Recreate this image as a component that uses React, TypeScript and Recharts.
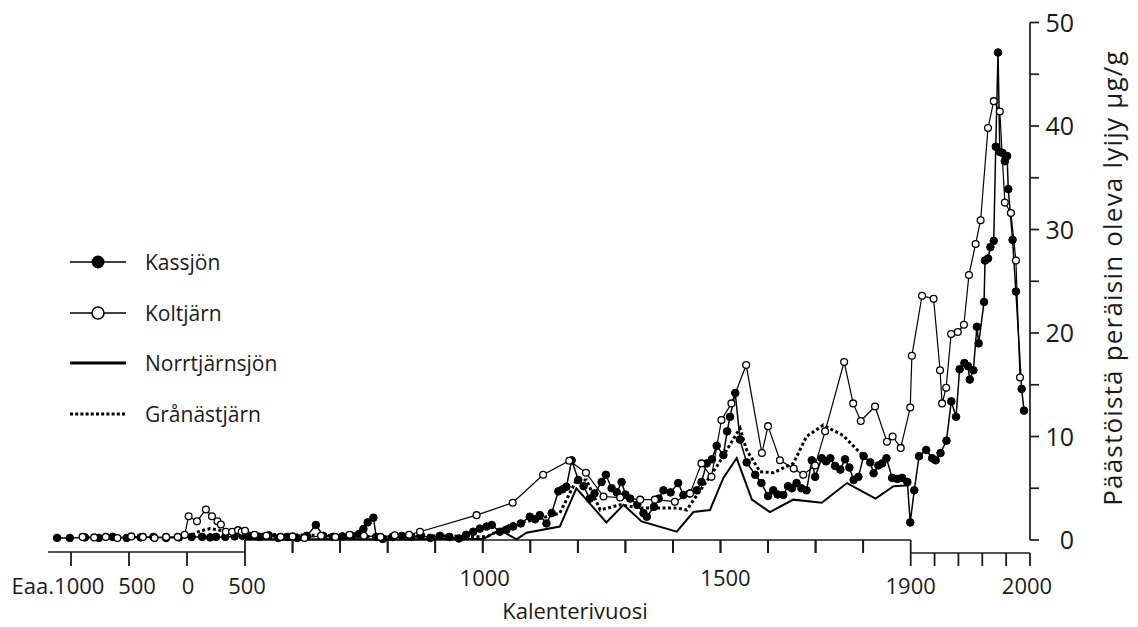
import { LineChart, Line, XAxis, YAxis, ReferenceLine, Legend } from 'recharts'

const FONT = '"Open Sans", "DejaVu Sans", sans-serif'
const INK = '#1a1a1a'

// calendar year (negative = BC) and lead from emissions, µg/g
const kassYears = [
  -1120, -1010, -880, -760, -640, -520, -400, -290, -180, -70, 40, 130, 200, 250, 330, 410, 480,
  510, 530, 550, 570, 590, 610, 630, 649, 665, 685, 705, 725, 740, 749, 758, 770, 776, 790,
  810, 830, 850, 870, 890, 910, 930, 950, 965, 980, 994, 1008, 1019, 1036, 1050, 1064, 1080,
  1099, 1110, 1120, 1134, 1145, 1159, 1168, 1176, 1187, 1201, 1212, 1225, 1235, 1250, 1259,
  1271, 1282, 1292, 1300, 1310, 1325, 1338, 1345, 1360, 1370, 1380, 1395, 1411, 1422, 1435,
  1450, 1460, 1471, 1482, 1492, 1506, 1514, 1520, 1531, 1541, 1555, 1573, 1586, 1600, 1611,
  1620, 1632, 1642, 1650, 1660, 1670, 1681, 1692, 1699, 1713, 1722, 1731, 1741, 1752, 1762,
  1771, 1780, 1790, 1801, 1815, 1822, 1832, 1840, 1849, 1861, 1872, 1882, 1893, 1899,
  1903, 1907, 1913, 1918, 1921, 1925, 1930, 1934, 1938, 1941, 1945, 1948, 1949.5, 1952.5,
  1955.5, 1957, 1961.5, 1962.3, 1964.8, 1966.8, 1969.6, 1971.3, 1973.2, 1974.7, 1976.9,
  1978.9, 1980.8, 1981.8, 1985.4, 1988.2, 1993, 1995,
]
const kassVals = [
  0.2, 0.2, 0.25, 0.2, 0.3, 0.2, 0.25, 0.3, 0.2, 0.25, 0.3, 0.3, 0.25, 0.3, 0.3, 0.35, 0.4,
  0.4, 0.3, 0.45, 0.2, 0.3, 0.2, 0.4, 1.45, 0.4, 0.3, 0.35, 0.4, 0.6, 1.06, 1.7, 2.15, 0.3, 0.1,
  0.3, 0.4, 0.3, 0.45, 0.2, 0.4, 0.3, 0.15, 0.5, 0.8, 1.1, 1.3, 1.45, 0.8, 1.0, 1.3, 1.6,
  2.25, 2.0, 2.4, 1.6, 2.6, 4.7, 4.9, 5.15, 7.7, 5.8, 5.2, 4.0, 4.5, 5.6, 6.3,
  5.0, 4.6, 5.6, 4.4, 4.0, 3.4, 2.6, 2.25, 3.2, 4.0, 4.8, 4.6, 5.5, 4.35, 4.5,
  4.8, 5.6, 7.4, 7.8, 9.1, 8.2, 10.5, 11.9, 14.2, 9.7, 7.5, 6.3, 5.5, 4.25, 4.8,
  4.4, 4.35, 5.2, 5.0, 5.5, 5.0, 4.8, 7.7, 6.1, 7.9, 7.6, 7.9, 7.15, 6.8, 7.8,
  7.0, 5.8, 6.1, 8.1, 7.5, 6.45, 7.2, 7.4, 7.9, 6.0, 5.9, 6.0, 5.6, 1.7,
  4.8, 8.1, 8.7, 7.9, 7.7, 8.4, 9.6, 13.4, 11.9, 16.5, 17.1, 16.8, 15.5, 16.4,
  20.6, 19.0, 23.0, 27.0, 27.2, 28.3, 28.9, 38.0, 47.1, 37.5, 37.4,
  36.6, 37.1, 33.9, 29.0, 24.0, 14.6, 12.5,
]

const koltYears = [
  -900, -800, -700, -600, -480, -380, -280, -180, -80, -20, 14, 86, 163, 215, 263, 292, 335,
  389, 440, 472, 500, 520, 545, 575, 600, 625, 660, 690, 720, 750, 785, 815, 845, 868, 987,
  1063, 1127, 1182, 1217, 1254, 1289, 1331, 1362, 1404, 1436, 1460, 1481, 1502, 1523, 1554,
  1587, 1600, 1625, 1654, 1674, 1699, 1720, 1760, 1779, 1795, 1825, 1850, 1862, 1879, 1899,
  1901, 1909.5, 1919.2, 1924.6, 1926.3, 1929.7, 1933.9, 1939.5, 1944.6, 1948.8, 1954.4,
  1958.6, 1964.8, 1969.6, 1974.7, 1978.9, 1984, 1988.2, 1991.6,
]
const koltVals = [
  0.3, 0.25, 0.3, 0.2, 0.35, 0.3, 0.2, 0.3, 0.3, 0.5, 2.3, 1.8, 2.95, 2.3, 1.8, 1.5, 0.8,
  0.8, 0.95, 0.8, 0.9, 0.5, 0.4, 0.3, 0.35, 0.2, 0.4, 0.3, 0.5, 0.4, 0.3, 0.45, 0.5, 0.8, 2.4,
  3.6, 6.3, 7.66, 6.5, 4.2, 4.1, 3.9, 3.9, 3.7, 4.5, 7.4, 6.1, 11.6, 13.2, 16.9,
  8.4, 11.0, 7.7, 6.9, 6.3, 7.2, 10.5, 17.2, 13.2, 11.5, 12.9, 9.5, 10.0, 8.9, 12.8,
  17.8, 23.6, 23.3, 16.4, 13.2, 14.7, 19.9, 20.1, 20.8, 25.6, 28.6,
  30.9, 39.8, 42.4, 41.4, 32.6, 31.6, 27.0, 15.7,
]

const norrYears = [
  500, 600, 700, 800, 900, 1001, 1036, 1071, 1092, 1162, 1197, 1260, 1296, 1334, 1408, 1443,
  1478, 1506, 1534, 1566, 1604, 1653, 1713, 1766, 1826, 1864, 1896,
]
const norrVals = [
  0.1, 0.05, 0.1, 0.05, 0.1, 0.1, 0.97, 0.07, 0.7, 1.3, 5.0, 1.7, 3.4, 1.8, 0.8, 2.7,
  2.9, 6.0, 7.9, 3.9, 2.7, 3.9, 3.6, 5.5, 4.0, 5.2, 5.3,
]

const granYears = [
  0, 60, 120, 200, 300, 400, 500, 600, 700, 800, 900, 1008, 1064, 1106, 1162, 1197, 1218,
  1247, 1289, 1331, 1408, 1429, 1492, 1541, 1555, 1583, 1611, 1653, 1681, 1716, 1758, 1794, 1805,
]
const granVals = [
  0.3, 0.6, 0.9, 1.1, 0.9, 0.7, 0.6, 0.5, 0.4, 0.3, 0.4, 0.3, 1.6, 1.9, 2.6, 5.8, 5.8,
  2.9, 3.4, 3.1, 3.1, 2.9, 7.1, 10.8, 8.7, 6.6, 6.5, 7.4, 10.0, 11.1, 10.1, 8.4, 8.0,
]

const tickYears = [-1000, -500, 0, 500, 600, 700, 800, 900, 1000, 1100, 1200, 1300, 1400, 1500, 1600, 1700, 1800, 1900, 1920, 1940, 1960, 1980, 2000]
const tickLabels = ['Eaa.1000', '500', '0', '500', '', '', '', '', '1000', '', '', '', '', '1500', '', '', '', '1900', '', '', '', '', '2000']
const midTickYears = tickYears.filter((y) => y > 500 && y < 1900)
const yTicks = [0, 5, 10, 15, 20, 25, 30, 35, 40, 45, 50]

const legendNames = ['Kassjön', 'Koltjärn', 'Norrtjärnsjön', 'Grånästjärn']

// broken time axis: BC/early part squeezed, 500-1900 normal, 1900s stretched
function toPos(year: number) {
  if (year <= 500) return 197 - (500 - year) * 0.116
  if (year <= 1900) return 197 + (year - 500) * 0.4755
  return 862.7 + (year - 1900) * 1.193
}

const rows = (years: number[], vals: number[]) => years.map((y, i) => ({ pos: toPos(y), v: vals[i] }))

const PX_PER_UNIT = 517.5 / 50
const lowAxis = -12 / PX_PER_UNIT
const lowAxis3 = -13 / PX_PER_UNIT

const labelNudge: Record<number, number> = { [-1000]: -13, [-500]: 8, 0: 1, 500: 2, 1000: 2, 1500: 5, 2000: -3 }

function XTick(props: any) {
  const { x, y, index } = props
  const year = tickYears[index]
  const label = tickLabels[index]
  let top = y
  let bottom = y + 13
  let labelY = y + 46
  if (year < 500) {
    top = y + 12
    bottom = y + 26
    labelY = y + 54
  } else if (year === 500 || year === 1900) {
    bottom = y + 26
    labelY = y + 54
  } else if (year > 1900) {
    top = y + 13
    bottom = y + 26
    labelY = y + 54
  }
  return (
    <g>
      <path d={`M${x},${top}L${x},${bottom}`} stroke={INK} strokeWidth={1.8} fill="none" />
      {label ? (
        <text x={x + (labelNudge[year] ?? 0)} y={labelY} textAnchor="middle" fontFamily={FONT} fontSize={22} fill={INK}>
          {label}
        </text>
      ) : null}
    </g>
  )
}

function YTick(props: any) {
  const { x, y, payload } = props
  if (payload.value % 10 !== 0) return null
  return (
    <text x={x + 35} y={y} dy="0.36em" textAnchor="end" fontFamily={FONT} fontSize={25} fill={INK}>
      {payload.value}
    </text>
  )
}

function Marker({ name }: { name: string }) {
  return (
    <svg width={58} height={20} style={{ display: 'block' }}>
      {name === 'Kassjön' && (
        <>
          <line x1={0} x2={56} y1={10} y2={10} stroke="#000" strokeWidth={1.5} />
          <circle cx={28} cy={10} r={6.5} fill="#000" />
        </>
      )}
      {name === 'Koltjärn' && (
        <>
          <line x1={0} x2={56} y1={10} y2={10} stroke="#000" strokeWidth={1.5} />
          <circle cx={28} cy={10} r={6} fill="#fff" stroke="#000" strokeWidth={1.5} />
        </>
      )}
      {name === 'Norrtjärnsjön' && <line x1={0} x2={56} y1={10} y2={10} stroke="#000" strokeWidth={3} />}
      {name === 'Grånästjärn' && (
        <line x1={0} x2={56} y1={10} y2={10} stroke="#000" strokeWidth={3} strokeDasharray="3 2.2" />
      )}
    </svg>
  )
}

function LegendBox() {
  return (
    <div style={{ fontFamily: FONT, fontSize: 21, color: INK }}>
      {legendNames.map((n) => (
        <div key={n} style={{ display: 'flex', alignItems: 'center', height: 50.5 }}>
          <Marker name={n} />
          <span style={{ marginLeft: 17 }}>{n}</span>
        </div>
      ))}
    </div>
  )
}

const xTitle = () => (
  <text x={575} y={619} textAnchor="middle" fontFamily={FONT} fontSize={22} fill={INK}>
    Kalenterivuosi
  </text>
)

const yTitle = () => (
  <text
    x={1112}
    y={278}
    transform="rotate(-90, 1112, 278)"
    textAnchor="middle"
    dominantBaseline="central"
    fontFamily={FONT}
    fontSize={26}
    letterSpacing={1.2}
    fill={INK}
  >
    Päästöistä peräisin oleva lyijy µg/g
  </text>
)

export default function App() {
  return (
    <div style={{ position: 'absolute', left: 0, top: 0, background: '#fff' }}>
      <LineChart width={1138} height={627} margin={{ top: 22.5, right: 48, bottom: 27, left: 48 }}>
        <XAxis
          type="number"
          dataKey="pos"
          domain={[0, 982]}
          ticks={tickYears.map(toPos)}
          interval={0}
          allowDataOverflow
          axisLine={false}
          tickLine={false}
          tickSize={0}
          tickMargin={0}
          height={60}
          tick={(p: any) => <XTick {...p} />}
          label={xTitle}
        />
        <YAxis
          orientation="right"
          domain={[0, 50]}
          ticks={yTicks}
          interval={0}
          width={60}
          tickSize={9}
          tickMargin={0}
          axisLine={{ stroke: INK, strokeWidth: 1.7 }}
          tickLine={{ stroke: INK, strokeWidth: 1.7 }}
          tick={(p: any) => <YTick {...p} />}
          label={yTitle}
        />
        <ReferenceLine segment={[{ x: toPos(-1197), y: lowAxis }, { x: toPos(500), y: lowAxis }]} stroke={INK} strokeWidth={1.7} ifOverflow="visible" />
        <ReferenceLine segment={[{ x: toPos(500), y: 0 }, { x: toPos(1900), y: 0 }]} stroke={INK} strokeWidth={1.7} ifOverflow="visible" />
        <ReferenceLine segment={[{ x: toPos(1900), y: lowAxis3 }, { x: toPos(2000), y: lowAxis3 }]} stroke={INK} strokeWidth={1.7} ifOverflow="visible" />
        {midTickYears.map((yr) => (
          <ReferenceLine
            key={yr}
            segment={[{ x: toPos(yr), y: 0 }, { x: toPos(yr), y: lowAxis3 }]}
            stroke={INK}
            strokeWidth={1.8}
            ifOverflow="visible"
          />
        ))}
        <Line
          data={rows(granYears, granVals)}
          dataKey="v"
          name="Grånästjärn"
          type="linear"
          stroke="#000"
          strokeWidth={3}
          strokeDasharray="3 2.5"
          dot={false}
          isAnimationActive={false}
        />
        <Line
          data={rows(norrYears, norrVals)}
          dataKey="v"
          name="Norrtjärnsjön"
          type="linear"
          stroke="#000"
          strokeWidth={2}
          dot={false}
          isAnimationActive={false}
        />
        <Line
          data={rows(kassYears, kassVals)}
          dataKey="v"
          name="Kassjön"
          type="linear"
          stroke="#000"
          strokeWidth={1.5}
          dot={{ r: 3.8, fill: '#000', stroke: '#000', strokeWidth: 1 }}
          isAnimationActive={false}
        />
        <Line
          data={rows(koltYears, koltVals)}
          dataKey="v"
          name="Koltjärn"
          type="linear"
          stroke="#000"
          strokeWidth={1.2}
          dot={{ r: 3.4, fill: '#fff', stroke: '#000', strokeWidth: 1.3 }}
          isAnimationActive={false}
        />
        <Legend content={<LegendBox />} align="center" verticalAlign="middle" wrapperStyle={{ left: 70, top: 237, width: 300 }} />
      </LineChart>
    </div>
  )
}
